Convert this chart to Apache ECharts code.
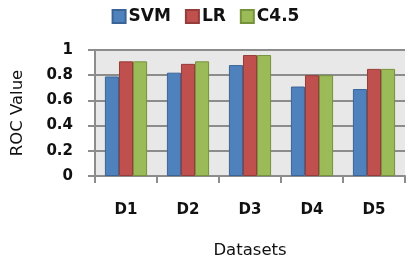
<!DOCTYPE html>
<html><head><meta charset="utf-8">
<script src="https://cdn.jsdelivr.net/npm/echarts@6/dist/echarts.min.js"></script>
<style>html,body{margin:0;padding:0;background:#fff}#c{width:411px;height:264px}</style>
</head><body><div id="c"></div>
<script>
const categories = ['D1','D2','D3','D4','D5'];
const svm = [0.79, 0.82, 0.88, 0.71, 0.69];
const lr = [0.91, 0.89, 0.96, 0.80, 0.85];
const c45 = [0.91, 0.91, 0.96, 0.80, 0.85];
const seriesNames = ['SVM','LR','C4.5'];
const yTicks = [0, 0.2, 0.4, 0.6, 0.8, 1];

const chart = echarts.init(document.getElementById('c'));
const font = 'DejaVu Sans';
function bar(name, data, color, border) {
  return { name, type: 'bar', data, barGap: '0%', barCategoryGap: '32%',
    itemStyle: { color, borderColor: border, borderWidth: 1 } };
}
chart.setOption({
  animation: false,
  legend: { top: 3, left: 'center', itemWidth: 13, itemHeight: 13, itemGap: 14,
    icon: 'rect',
    textStyle: { fontFamily: font, fontSize: 17, fontWeight: 'bold', color: '#111', padding: [0,0,0,-2] },
    data: seriesNames },
  grid: { left: 95, right: 6, top: 50, bottom: 88, show: true, backgroundColor: '#e8e8e8', borderWidth: 0 },
  xAxis: { type: 'category', data: categories, name: 'Datasets', nameLocation: 'middle', nameGap: 66,
    nameTextStyle: { fontFamily: font, fontSize: 16.5, color: '#111' },
    axisLine: { lineStyle: { color: '#8c8c8c', width: 2 } },
    axisTick: { show: true, length: 7, lineStyle: { color: '#8c8c8c', width: 2 } },
    axisLabel: { margin: 27, fontFamily: font, fontSize: 15, fontWeight: 'bold', color: '#111' } },
  yAxis: { type: 'value', min: 0, max: 1, interval: 0.2, name: 'ROC Value', nameLocation: 'middle', nameGap: 69,
    nameTextStyle: { fontFamily: font, fontSize: 16.5, color: '#111' },
    axisLine: { show: true, lineStyle: { color: '#8c8c8c', width: 2 } },
    axisTick: { show: true, length: 7, lineStyle: { color: '#8c8c8c', width: 2 } },
    splitLine: { lineStyle: { color: '#8c8c8c', width: 2 } },
    axisLabel: { margin: 22, fontFamily: font, fontSize: 15, fontWeight: 'bold', color: '#111',
      formatter: v => { const t = yTicks.find(x => Math.abs(x - v) < 1e-9); return t === undefined ? '' : String(t); } } },
  series: [
    bar('SVM', svm, '#4f81bd', '#3a6496'),
    bar('LR', lr, '#c0504d', '#963c3a'),
    bar('C4.5', c45, '#9bbb59', '#76923c')
  ]
});
</script></body></html>
